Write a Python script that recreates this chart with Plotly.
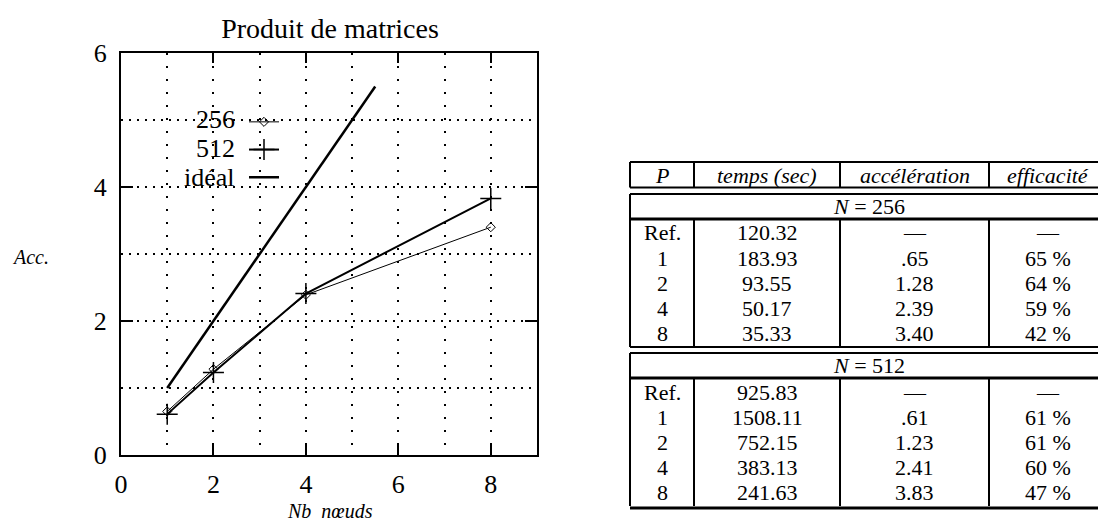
import plotly.graph_objects as go

W, H = 1106, 523
OFF = 8  # page body margin in the browser

# ---------------- data ----------------
nodes = [1, 2, 4, 8]
acc_256 = [0.65, 1.28, 2.39, 3.40]
acc_512 = [0.61, 1.23, 2.41, 3.83]
ideal_x = [1, 5.5]
ideal_y = [1, 5.5]
x_ticks = [0, 2, 4, 6, 8]
y_ticks = [0, 2, 4, 6]
legend_labels = ["256", "512", "idéal"]

table_header = ["<i>P</i>", "<i>temps (sec)</i>", "<i>accélération</i>", "<i>efficacité</i>"]
row_P = ["Ref.", "1", "2", "4", "8"]
block_titles = ["<i>N</i> = 256", "<i>N</i> = 512"]
temps_256 = ["120.32", "183.93", "93.55", "50.17", "35.33"]
accel_256 = ["—", ".65", "1.28", "2.39", "3.40"]
eff_256 = ["—", "65 %", "64 %", "59 %", "42 %"]
temps_512 = ["925.83", "1508.11", "752.15", "383.13", "241.63"]
accel_512 = ["—", ".61", "1.23", "2.41", "3.83"]
eff_512 = ["—", "61 %", "61 %", "60 %", "47 %"]


def px(x):
    return (x - OFF) / W


def py(y):
    return 1 - (y - OFF) / H


FONT = "Liberation Serif"

fig = go.Figure()
fig.add_trace(go.Scatter(
    x=nodes, y=acc_256, mode="lines+markers", name=" ",
    line=dict(color="black", width=1),
    marker=dict(symbol="diamond-open", size=7, color="black", line=dict(width=1, color="black")),
))
fig.add_trace(go.Scatter(
    x=nodes, y=acc_512, mode="lines+markers", name=" ",
    line=dict(color="black", width=2),
    marker=dict(symbol="cross-thin-open", size=15, color="black", line=dict(width=1.5, color="black")),
))
fig.add_trace(go.Scatter(
    x=ideal_x, y=ideal_y, mode="lines", name=" ",
    line=dict(color="black", width=2.5),
))

grid_common = dict(gridcolor="black", gridwidth=1.5)

fig.update_layout(
    width=W, height=H,
    margin=dict(l=0, r=0, t=0, b=0, autoexpand=False),
    paper_bgcolor="white", plot_bgcolor="white",
    font=dict(family=FONT, color="black", size=26),
    title=dict(text="Produit de matrices", x=px(330), y=py(28), xanchor="center", yanchor="middle",
               font=dict(family=FONT, size=28, color="black")),
    xaxis=dict(
        domain=[px(121), px(537)], range=[0, 9], automargin=False,
        tickmode="array", tickvals=x_ticks, ticktext=[str(v) for v in x_ticks],
        ticks="inside", ticklen=10, tickwidth=2, tickcolor="black",
        showline=True, linewidth=2, linecolor="black", mirror="ticks",
        showgrid=True, griddash="2px,11px", **grid_common,
        minor=dict(tickmode="linear", tick0=0, dtick=1, showgrid=True, griddash="2px,11px", **grid_common),
        zeroline=False, tickfont=dict(size=26), ticklabelstandoff=5,
    ),
    yaxis=dict(
        domain=[py(455), py(53)], range=[0, 6], automargin=False,
        tickmode="array", tickvals=y_ticks, ticktext=[str(v) for v in y_ticks],
        ticks="inside", ticklen=12, tickwidth=2, tickcolor="black",
        showline=True, linewidth=2, linecolor="black", mirror="ticks",
        showgrid=True, griddash="2px,6px", **grid_common,
        minor=dict(tickmode="linear", tick0=0, dtick=1, showgrid=True, griddash="2px,6px", **grid_common),
        zeroline=False, tickfont=dict(size=26), ticklabelstandoff=7,
    ),
    legend=dict(x=px(244), y=py(103), xanchor="left", yanchor="top",
                bgcolor="rgba(0,0,0,0)", borderwidth=0, font=dict(size=19),
                tracegroupgap=0, itemwidth=30),
    showlegend=True,
)

annotations = []
shapes = []

# legend labels (right-aligned, left of the samples)
for lab, yy in zip(legend_labels, [119, 148, 177]):
    annotations.append(dict(x=px(237), y=py(yy), xref="paper", yref="paper", text=lab,
                            showarrow=False, xanchor="right", yanchor="middle",
                            font=dict(size=26)))

# axis labels
annotations.append(dict(x=px(30), y=py(257), xref="paper", yref="paper", text="<i>Acc.</i>",
                        showarrow=False, xanchor="center", yanchor="middle", font=dict(size=20)))
annotations.append(dict(x=px(330), y=py(511), xref="paper", yref="paper", text="<i>Nb  nœuds</i>",
                        showarrow=False, xanchor="center", yanchor="middle", font=dict(size=20)))

# ---------------- table ----------------
L, C1, C2, C3, R = 630, 694, 840, 989, 1120
col_centers = [(L + C1) / 2, (C1 + C2) / 2, (C2 + C3) / 2, (C3 + 1107) / 2]
TF = 22


def hline(y, w=2):
    shapes.append(dict(type="line", xref="paper", yref="paper", x0=px(L), x1=px(R), y0=py(y), y1=py(y),
                       line=dict(color="black", width=w)))


def vlines(y0, y1, xs):
    for x in xs:
        shapes.append(dict(type="line", xref="paper", yref="paper", x0=px(x), x1=px(x), y0=py(y0), y1=py(y1),
                           line=dict(color="black", width=2)))


def txt(x, y, s, size=TF):
    annotations.append(dict(x=px(x), y=py(y), xref="paper", yref="paper", text=s, showarrow=False,
                            xanchor="center", yanchor="middle", font=dict(size=size)))


top = 162
hline(top)
vlines(top, 187.5, [L, C1, C2, C3])
for c, h in zip(col_centers, table_header):
    txt(c, 175, h)
hline(187.5)
hline(194)

blocks = [
    (block_titles[0], temps_256, accel_256, eff_256, 194),
    (block_titles[1], temps_512, accel_512, eff_512, 353),
]
for title, temps, accel, eff, ystart in blocks:
    vlines(ystart, ystart + 25, [L])
    txt((L + 1107) / 2, ystart + 12.5, title)
    hline(ystart + 25, 3)
    r0 = ystart + 25
    rend = r0 + 128
    vlines(r0, rend, [L, C1, C2, C3])
    for i in range(5):
        yy = r0 + 14 + 25 * i
        for c, s in zip(col_centers, [row_P[i], temps[i], accel[i], eff[i]]):
            txt(c, yy, s)

hline(347)
hline(353)
hline(508, 3)

fig.update_layout(annotations=annotations, shapes=shapes)
fig.write_html("out.html")
